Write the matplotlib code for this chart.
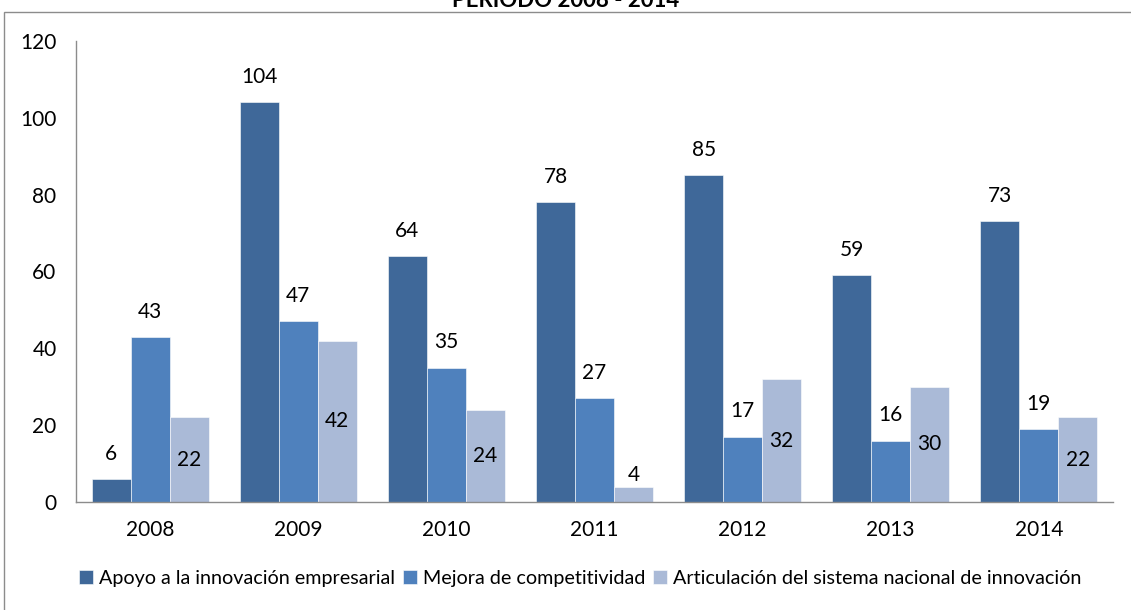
import numpy as np
import matplotlib
matplotlib.use('Agg')
import matplotlib.pyplot as plt
from matplotlib.patches import Rectangle

plt.rcParams['font.family'] = ['Lato', 'DejaVu Sans']

# Data
years = ['2008', '2009', '2010', '2011', '2012', '2013', '2014']
apoyo = [6, 104, 64, 78, 85, 59, 73]
mejora = [43, 47, 35, 27, 17, 16, 19]
articulacion = [22, 42, 24, 4, 32, 30, 22]
series_names = ['Apoyo a la innovación empresarial',
                'Mejora de competitividad',
                'Articulación del sistema nacional de innovación']
colors = ['#3F6899', '#4F81BD', '#AABAD7']
fs = 15

fig = plt.figure(figsize=(11.31, 6.10), dpi=100)
ax = fig.add_axes([0.0672, 0.177, 0.9168, 0.756])

# Outer frame (chart area border, partly cropped)
fig.patches.append(Rectangle((0.0035, -0.1), 1.2, 1.0803, transform=fig.transFigure,
                             fill=False, edgecolor='#8C8C8C', linewidth=1.0))

x = np.arange(len(years))
w = 0.263
all_series = [apoyo, mejora, articulacion]
for i, (vals, col) in enumerate(zip(all_series, colors)):
    bars = ax.bar(x + (i - 1) * w, vals, width=w, color=col, edgecolor='white',
                  linewidth=0.4, label=series_names[i])
    for b, v in zip(bars, vals):
        cx = b.get_x() + b.get_width() / 2
        if i < 2:
            ax.annotate(str(v), (cx, v), xytext=(0, 11), textcoords='offset points',
                        ha='center', va='bottom', fontsize=fs)
        elif v < 10:
            ax.annotate(str(v), (cx, v), xytext=(0, 1), textcoords='offset points',
                        ha='center', va='bottom', fontsize=fs)
        else:
            ax.text(cx, v / 2, str(v), ha='center', va='center', fontsize=fs)

ax.set_xlim(-0.5, len(years) - 0.5)
ax.set_ylim(0, 120)
ax.set_yticks(range(0, 121, 20))
ax.set_xticks(x)
ax.set_xticklabels(years)
ax.tick_params(axis='both', length=0, labelsize=fs)
ax.tick_params(axis='y', pad=14)
ax.tick_params(axis='x', pad=13)
for s in ['top', 'right']:
    ax.spines[s].set_visible(False)
for s in ['left', 'bottom']:
    ax.spines[s].set_color('#8C8C8C')
    ax.spines[s].set_linewidth(1.0)

fig.text(0.5, 0.9885, 'PERIODO 2008 - 2014', ha='center', va='baseline',
         fontsize=16, fontweight='bold')

fig.legend(loc='center', bbox_to_anchor=(0.513, 0.052), ncol=3, frameon=False,
           fontsize=14.2, handlelength=0.7, handleheight=0.7, handletextpad=0.3,
           columnspacing=0.4)

fig.savefig('out.png', dpi=100)
